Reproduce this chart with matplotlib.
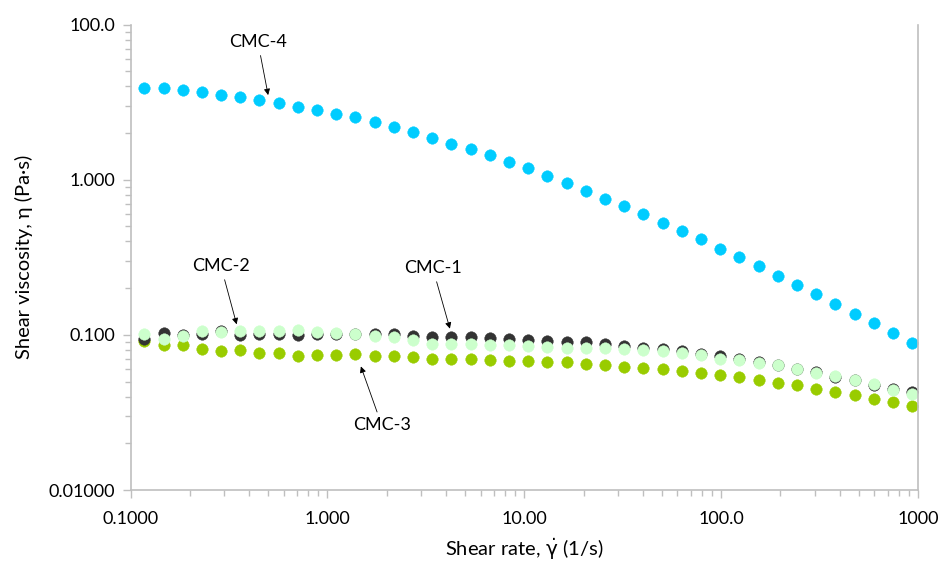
import matplotlib
matplotlib.use("Agg")
import matplotlib.pyplot as plt
from matplotlib.ticker import LogLocator, FixedLocator, FixedFormatter, NullFormatter

# Shear rate (1/s)
shear_rate = [0.1175, 0.1471, 0.1841, 0.2304, 0.2884, 0.3609, 0.4519, 0.5656, 0.7079, 0.8861,
              1.109, 1.388, 1.738, 2.175, 2.723, 3.408, 4.266, 5.340, 6.683, 8.366,
              10.47, 13.11, 16.41, 20.54, 25.70, 32.17, 40.27, 50.41, 63.10, 78.98,
              98.86, 123.7, 154.9, 193.9, 242.7, 303.7, 380.2, 475.9, 595.7, 745.6, 933.3]

# Shear viscosity (Pa·s)
cmc1 = [0.0942, 0.1035, 0.1000, 0.1007, 0.1058, 0.0996, 0.1015, 0.1020, 0.0996, 0.1015,
        0.1007, 0.1015, 0.1007, 0.1007, 0.0985, 0.0971, 0.0971, 0.0966, 0.0959, 0.0942,
        0.0926, 0.0912, 0.0904, 0.0895, 0.0872, 0.0852, 0.0827, 0.0806, 0.0786, 0.0756,
        0.0730, 0.0700, 0.0668, 0.0641, 0.0605, 0.0575, 0.0534, 0.0509, 0.0472, 0.0448, 0.0428]
cmc2 = [0.1007, 0.0935, 0.0978, 0.1066, 0.1049, 0.1066, 0.1058, 0.1066, 0.1080, 0.1046,
        0.1033, 0.1015, 0.0985, 0.0968, 0.0928, 0.0868, 0.0868, 0.0868, 0.0862, 0.0858,
        0.0852, 0.0839, 0.0827, 0.0818, 0.0818, 0.0810, 0.0803, 0.0782, 0.0763, 0.0738,
        0.0702, 0.0692, 0.0662, 0.0636, 0.0599, 0.0567, 0.0542, 0.0514, 0.0480, 0.0443, 0.0413]
cmc3 = [0.0915, 0.0858, 0.0866, 0.0806, 0.0792, 0.0800, 0.0762, 0.0765, 0.0735, 0.0740,
        0.0746, 0.0749, 0.0732, 0.0727, 0.0716, 0.0700, 0.0700, 0.0698, 0.0690, 0.0683,
        0.0678, 0.0665, 0.0665, 0.0648, 0.0639, 0.0624, 0.0614, 0.0605, 0.0584, 0.0567,
        0.0553, 0.0534, 0.0514, 0.0491, 0.0472, 0.0445, 0.0428, 0.0407, 0.0388, 0.0369, 0.0346]
cmc4 = [3.91, 3.88, 3.78, 3.65, 3.51, 3.39, 3.26, 3.10, 2.95, 2.82,
        2.67, 2.52, 2.34, 2.20, 2.02, 1.86, 1.71, 1.566, 1.439, 1.303,
        1.181, 1.053, 0.959, 0.847, 0.756, 0.675, 0.599, 0.529, 0.467, 0.413,
        0.360, 0.318, 0.278, 0.239, 0.209, 0.1825, 0.158, 0.137, 0.1187, 0.1027, 0.0891]

series_names = ["CMC-3", "CMC-1", "CMC-2", "CMC-4"]
series_values = [cmc3, cmc1, cmc2, cmc4]
series_colors = ["#99cc00", "#333333", "#ccffcc", "#00ccff"]

x_ticks = [0.1, 1, 10, 100, 1000]
x_tick_labels = ["0.1000", "1.000", "10.00", "100.0", "1000"]
y_ticks = [0.01, 0.1, 1, 10]
y_tick_labels = ["0.01000", "0.100", "1.000", "100.0"]

# annotations: label, arrow tip (data), text position (data)
ann_labels = ["CMC-4", "CMC-2", "CMC-1", "CMC-3"]
ann_tips = [(0.50, 3.51), (0.346, 0.1169), (4.19, 0.1096), (1.479, 0.0626)]
ann_texts = [(0.4436, 7.71), (0.288, 0.2767), (3.43, 0.2685), (1.89, 0.0261)]

plt.rcParams['font.family'] = ['Lato', 'DejaVu Sans']
plt.rcParams['mathtext.fontset'] = 'dejavusans'

fig = plt.figure(figsize=(9.39, 5.65), dpi=100)
ax = fig.add_axes([0.139, 0.1327, 0.8387, 0.8239])

for name, vals, col in zip(series_names, series_values, series_colors):
    ax.plot(shear_rate, vals, linestyle='none', marker='o', markersize=8.3,
            markerfacecolor=col, markeredgecolor=col, markeredgewidth=0.3, label=name)

ax.set_xscale('log')
ax.set_yscale('log')
ax.set_xlim(0.1, 1000)
ax.set_ylim(0.01, 10)

ax.xaxis.set_major_locator(FixedLocator(x_ticks))
ax.xaxis.set_major_formatter(FixedFormatter(x_tick_labels))
ax.yaxis.set_major_locator(FixedLocator(y_ticks))
ax.yaxis.set_major_formatter(FixedFormatter(y_tick_labels))
ax.xaxis.set_minor_locator(LogLocator(base=10, subs=range(2, 10), numticks=20))
ax.yaxis.set_minor_locator(LogLocator(base=10, subs=range(2, 10), numticks=20))
ax.xaxis.set_minor_formatter(NullFormatter())
ax.yaxis.set_minor_formatter(NullFormatter())

spine_col = '#bfbfbf'
for s in ['left', 'bottom', 'right']:
    ax.spines[s].set_color(spine_col)
    ax.spines[s].set_linewidth(1.2)
ax.spines['top'].set_visible(False)

ax.tick_params(which='major', direction='out', length=6, width=1, color=spine_col,
               labelsize=13, labelcolor='black')
ax.tick_params(which='minor', direction='out', length=4.5, width=1, color=spine_col)
ax.tick_params(axis='x', which='major', pad=9)
ax.tick_params(axis='y', which='major', pad=5)
ax.tick_params(right=False, which='both')

ax.set_xlabel(r'Shear rate, $\dot{\mathrm{\gamma}}$ (1/s)', fontsize=14.5, labelpad=7)
ax.set_ylabel('Shear viscosity, η (Pa·s)', fontsize=14.5, labelpad=11)

for lab, tip, txt in zip(ann_labels, ann_tips, ann_texts):
    ax.annotate(lab, xy=tip, xytext=txt, ha='center', va='center', fontsize=13,
                arrowprops=dict(arrowstyle='-|>', color='black', lw=0.6,
                                mutation_scale=9, shrinkA=2, shrinkB=0))

fig.savefig('out.png', dpi=100)
